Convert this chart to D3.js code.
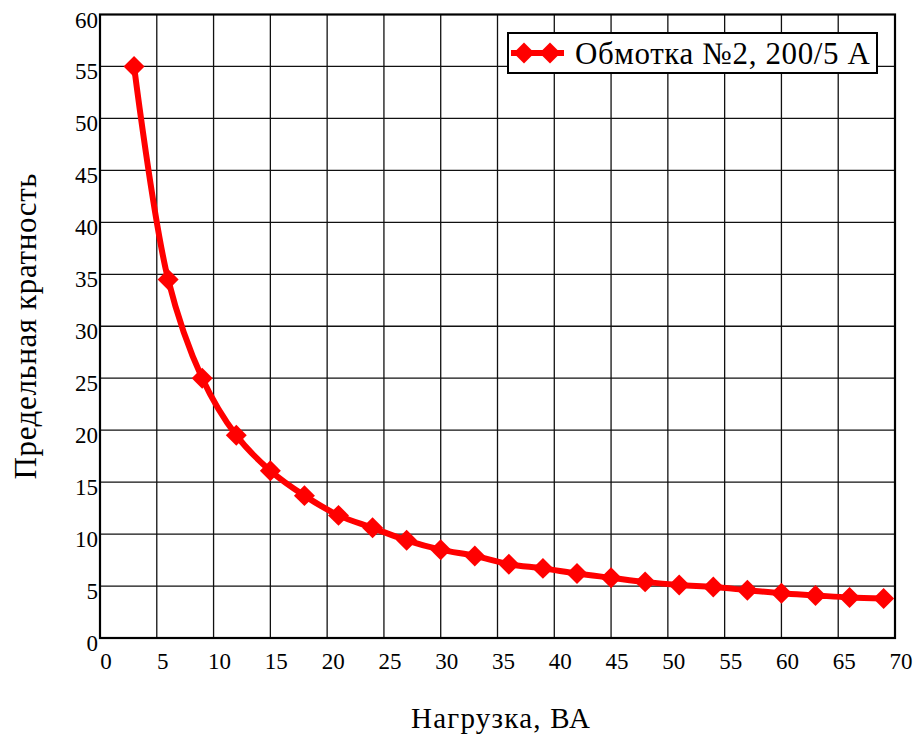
<!DOCTYPE html>
<html>
<head>
<meta charset="utf-8">
<script src="https://cdn.jsdelivr.net/npm/d3@7"></script>
<style>
  body { margin: 0; background: #fff; }
  svg { display: block; }
  text { font-family: "Liberation Serif", "Times New Roman", serif; fill: #000; }
</style>
</head>
<body>
<svg id="chart" width="915" height="739"></svg>
<script>
// нагрузка, ВА
const loadVA = [3, 6, 9, 12, 15, 18, 21, 24, 27, 30, 33, 36, 39, 42, 45, 48, 51, 54, 57, 60, 63, 66, 69];
// предельная кратность
const ratio = [55.0, 34.5, 25.0, 19.5, 16.1, 13.7, 11.8, 10.6, 9.4, 8.5, 7.9, 7.1, 6.7, 6.2, 5.8, 5.4, 5.1, 4.9, 4.6, 4.3, 4.1, 3.9, 3.8];
const xTicks = [0, 5, 10, 15, 20, 25, 30, 35, 40, 45, 50, 55, 60, 65, 70];
const yTicks = [0, 5, 10, 15, 20, 25, 30, 35, 40, 45, 50, 55, 60];
const seriesName = "Обмотка №2, 200/5 А";

const svg = d3.select("#chart");
const plotL = 100, plotR = 895, plotT = 14.5, plotB = 638;

const x = d3.scaleLinear().domain([0, 70]).range([plotL, plotR]);
const y = d3.scaleLinear().domain([0, 60]).range([plotB, plotT]);

const data = loadVA.map((v, i) => ({x: v, y: ratio[i]}));

// сетка
const grid = svg.append("g").attr("class", "grid");
grid.selectAll("line.vx")
    .data(xTicks.slice(1, -1))
    .join("line")
    .attr("x1", d => x(d)).attr("x2", d => x(d))
    .attr("y1", plotT).attr("y2", plotB)
    .attr("stroke", "#111").attr("stroke-width", 1.3);
grid.selectAll("line.hy")
    .data(yTicks.slice(1, -1))
    .join("line")
    .attr("y1", d => y(d)).attr("y2", d => y(d))
    .attr("x1", plotL).attr("x2", plotR)
    .attr("stroke", "#111").attr("stroke-width", 1.3);

// рамка
svg.append("rect")
    .attr("x", plotL).attr("y", plotT)
    .attr("width", plotR - plotL).attr("height", plotB - plotT)
    .attr("fill", "none").attr("stroke", "#000").attr("stroke-width", 2.2);

// подписи делений
svg.append("g").selectAll("text")
    .data(xTicks)
    .join("text")
    .attr("x", d => x(d) + 6).attr("y", plotB + 31)
    .attr("text-anchor", "middle")
    .attr("font-size", 23)
    .text(d => d);

svg.append("g").selectAll("text")
    .data(yTicks)
    .join("text")
    .attr("x", plotL - 2).attr("y", d => y(d) + 13)
    .attr("text-anchor", "end")
    .attr("font-size", 23)
    .text(d => d);

// подписи осей
svg.append("text")
    .attr("x", 500.5).attr("y", 728)
    .attr("text-anchor", "middle")
    .attr("font-size", 29)
    .attr("textLength", 179)
    .text("Нагрузка, ВА");

svg.append("text")
    .attr("transform", "translate(36,326.5) rotate(-90)")
    .attr("text-anchor", "middle")
    .attr("font-size", 31)
    .attr("textLength", 306)
    .text("Предельная кратность");

// кривая
const line = d3.line()
    .x(d => x(d.x))
    .y(d => y(d.y))
    .curve(d3.curveCatmullRom);

svg.append("path")
    .datum(data)
    .attr("d", line)
    .attr("fill", "none")
    .attr("stroke", "#ff0000")
    .attr("stroke-width", 6)
    .attr("stroke-linejoin", "round");

const diamond = d3.symbol().type(d3.symbolSquare).size(220);
svg.append("g").selectAll("path")
    .data(data)
    .join("path")
    .attr("d", diamond)
    .attr("transform", d => "translate(" + x(d.x) + "," + y(d.y) + ") rotate(45)")
    .attr("fill", "#ff0000");

// легенда
const legend = svg.append("g");
legend.append("rect")
    .attr("x", 508).attr("y", 33)
    .attr("width", 369).attr("height", 40)
    .attr("fill", "#fff").attr("stroke", "#000").attr("stroke-width", 2);
legend.append("line")
    .attr("x1", 511).attr("x2", 564)
    .attr("y1", 53).attr("y2", 53)
    .attr("stroke", "#ff0000").attr("stroke-width", 6);
legend.selectAll("path")
    .data([524, 550])
    .join("path")
    .attr("d", diamond)
    .attr("transform", d => "translate(" + d + ",53) rotate(45)")
    .attr("fill", "#ff0000");
legend.append("text")
    .attr("x", 575).attr("y", 64)
    .attr("font-size", 31)
    .attr("textLength", 295)
    .text(seriesName);
</script>
</body>
</html>
